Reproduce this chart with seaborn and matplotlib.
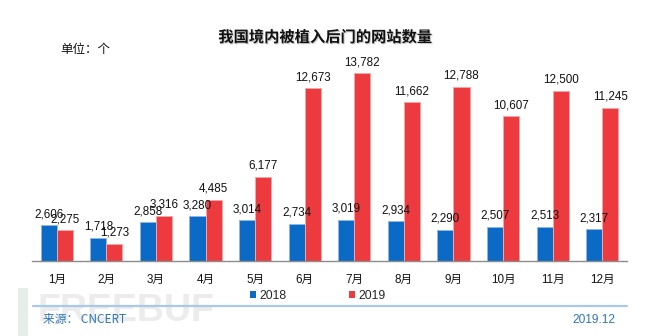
import matplotlib
matplotlib.use("Agg")
import matplotlib.pyplot as plt
import matplotlib.patheffects as pe
from matplotlib.patches import Rectangle
from matplotlib.lines import Line2D
import seaborn as sns
import pandas as pd

# Monthly counts of domestic websites implanted with backdoors
months = ["1月", "2月", "3月", "4月", "5月", "6月",
          "7月", "8月", "9月", "10月", "11月", "12月"]
values_2018 = [2606, 1718, 2858, 3280, 3014, 2734, 3019, 2934, 2290, 2507, 2513, 2317]
values_2019 = [2275, 1273, 3316, 4485, 6177, 12673, 13782, 11662, 12788, 10607, 12500, 11245]
years = ["2018", "2019"]

df = pd.DataFrame({
    "月份": months * 2,
    "年份": [years[0]] * len(months) + [years[1]] * len(months),
    "数量": values_2018 + values_2019,
})

sns.set_theme(style="white")
plt.rcParams["font.family"] = ["Liberation Sans", "Noto Sans CJK SC", "DejaVu Sans"]

W, H = 651, 336
fig = plt.figure(figsize=(W / 100, H / 100), dpi=100)
fig.patch.set_facecolor("white")

ax_left, ax_right, ax_bottom, ax_top = 32, 627, 261, 56
ax = fig.add_axes([ax_left / W, (H - ax_bottom) / H,
                   (ax_right - ax_left) / W, (ax_bottom - ax_top) / H])

palette = {"2018": "#0A6AC6", "2019": "#EC3A3E"}
edge = {"2018": "#8DB8E3", "2019": "#F4A6A6"}

# faint watermark behind everything
fig.patches.append(Rectangle((18 / W, 0), 10 / W, 48 / H, transform=fig.transFigure,
                             facecolor="#E3EFE8", edgecolor="none", zorder=0))
fig.text(37 / W, 7 / H, "FREEBUF", fontsize=27, fontweight="bold",
         color="#ECECEC", ha="left", va="bottom", zorder=0,
         family=["Liberation Sans"])

sns.barplot(data=df, x="月份", y="数量", hue="年份", palette=palette,
            width=0.65, saturation=1, ax=ax, legend=False)

for cont, yr in zip(ax.containers, years):
    for bar in cont:
        bar.set_edgecolor(edge[yr])
        bar.set_linewidth(0.7)
    ax.bar_label(cont, labels=[f"{v:,.0f}" for v in cont.datavalues],
                 padding=3.5, fontsize=8.4, color="#111111")

ax.set_ylim(0, 15030)
ax.set_xlim(-0.5, len(months) - 0.5)
ax.set_xlabel("")
ax.set_ylabel("")
ax.set_yticks([])
for s in ["top", "right", "left"]:
    ax.spines[s].set_visible(False)
ax.spines["bottom"].set_color("#8C8C8C")
ax.spines["bottom"].set_linewidth(1.0)

ax.tick_params(axis="x", which="major", length=0, pad=9, labelsize=8.4, labelcolor="#111111")
ax.set_xticks([i - 0.5 for i in range(len(months) + 1)], minor=True)
ax.tick_params(axis="x", which="minor", length=4, width=0.8, color="#8C8C8C", direction="out")
ax.patch.set_alpha(0)

handles = [Rectangle((0, 0), 1, 1, facecolor=palette[y], edgecolor="none") for y in years]
fig.legend(handles, years, ncol=2, loc="center", bbox_to_anchor=(318 / W, (H - 296) / H),
           frameon=False, fontsize=8.7, handlelength=0.5, handleheight=0.5,
           handletextpad=0.25, columnspacing=5.2, borderpad=0)

fig.text(325 / W, 1 - 37 / H, "我国境内被植入后门的网站数量", ha="center", va="center",
         fontsize=11, fontweight="bold", color="#111111",
         family=["Noto Sans CJK SC"],
         path_effects=[pe.withSimplePatchShadow(offset=(0.8, -0.8), shadow_rgbFace="#999999", alpha=0.5)])
fig.text(60 / W, 1 - 49 / H, "单位：个", ha="left", va="center", fontsize=9,
         color="#111111", family=["Noto Sans CJK SC"])

fig.add_artist(Line2D([33 / W, 627 / W], [(H - 306) / H] * 2, transform=fig.transFigure,
                      color="#A9C9EA", linewidth=1.6))
fig.text(43 / W, 1 - 320 / H, "来源： CNCERT", ha="left", va="center", fontsize=8.5,
         color="#2E75B6", family=["Noto Sans CJK SC", "Liberation Sans"])
fig.text(615 / W, 1 - 320 / H, "2019.12", ha="right", va="center", fontsize=8.6,
         color="#2E75B6")

fig.savefig("out.png", dpi=100, facecolor="white")
